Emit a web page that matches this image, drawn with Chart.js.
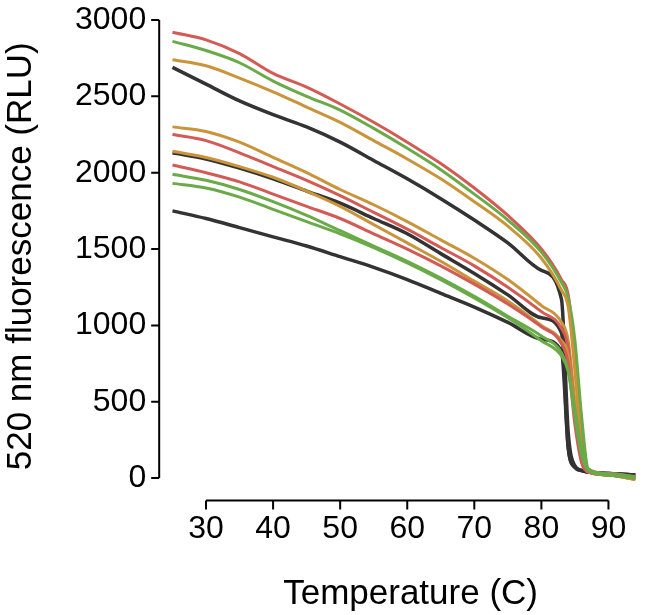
<!DOCTYPE html>
<html>
<head>
<script src="https://cdn.jsdelivr.net/npm/chart.js@4"></script>
<style>
  body { margin: 0; background: #fff; }
  #wrap { width: 668px; height: 615px; }
</style>
</head>
<body>
<div id="wrap"><canvas id="melt"></canvas></div>
<script>
// temperatures (C) where each curve was read
var temps = [25, 30, 35, 40, 45, 50, 55, 60, 65, 70, 75, 80, 83, 84, 85, 86, 87, 90, 94];

var red1   = [2920, 2870, 2780, 2650, 2560, 2450, 2330, 2200, 2060, 1900, 1720, 1500, 1300, 1200, 800, 250, 50, 30, 10];
var green1 = [2860, 2800, 2720, 2600, 2500, 2410, 2290, 2160, 2020, 1860, 1690, 1480, 1280, 1180, 900, 400, 60, 30, 10];
var gold1  = [2740, 2700, 2620, 2530, 2430, 2330, 2210, 2090, 1960, 1810, 1650, 1440, 1230, 1120, 700, 200, 40, 20, -10];
var black1 = [2690, 2580, 2470, 2380, 2300, 2200, 2080, 1960, 1830, 1690, 1540, 1360, 1170, 300, 80, 50, 40, 30, 20];
var gold2  = [2300, 2270, 2200, 2100, 2000, 1890, 1790, 1680, 1560, 1440, 1300, 1130, 1020, 900, 500, 150, 40, 20, -10];
var red2   = [2250, 2210, 2130, 2040, 1950, 1850, 1740, 1630, 1510, 1390, 1250, 1090, 980, 850, 400, 120, 40, 20, 0];
var gold3  = [2140, 2100, 2040, 1970, 1880, 1780, 1660, 1540, 1420, 1290, 1160, 1000, 900, 800, 400, 120, 40, 20, -10];
var black2 = [2130, 2090, 2030, 1960, 1880, 1800, 1700, 1600, 1470, 1340, 1200, 1050, 950, 200, 70, 50, 40, 30, 20];
var red3   = [2050, 2000, 1940, 1860, 1780, 1700, 1600, 1500, 1390, 1270, 1140, 990, 880, 750, 350, 100, 40, 20, 0];
var green2 = [1990, 1950, 1890, 1810, 1720, 1620, 1520, 1420, 1310, 1190, 1060, 930, 820, 700, 400, 150, 50, 20, 0];
var green3 = [1930, 1900, 1840, 1760, 1680, 1600, 1510, 1410, 1300, 1180, 1050, 900, 800, 700, 450, 200, 60, 20, 0];
var black3 = [1750, 1700, 1640, 1580, 1520, 1450, 1380, 1300, 1210, 1120, 1020, 910, 830, 200, 70, 50, 40, 30, 20];

var RED = "#d45a55", GREEN = "#6aaa48", GOLD = "#c9943a", BLACK = "#333333";
var curves = [
  [green3, GREEN], [green2, GREEN], [red3, RED], [gold3, GOLD], [red2, RED], [gold2, GOLD],
  [gold1, GOLD], [green1, GREEN], [red1, RED],
  [black3, BLACK], [black2, BLACK], [black1, BLACK]
];

var xTicks = [30, 40, 50, 60, 70, 80, 90];
var yTicks = [0, 500, 1000, 1500, 2000, 2500, 3000];

// detached R-style axis lines
var axisLines = {
  id: "axisLines",
  afterDraw: chart => {
    var c = chart.ctx, a = chart.chartArea;
    var xs = chart.scales.x, ys = chart.scales.y;
    c.save();
    c.strokeStyle = "#000";
    c.lineWidth = 2;
    var lx = a.left - 20, by = a.bottom + 8;
    c.beginPath();
    c.moveTo(lx, ys.getPixelForValue(3000));
    c.lineTo(lx, ys.getPixelForValue(0));
    yTicks.forEach(v => {
      c.moveTo(lx, ys.getPixelForValue(v));
      c.lineTo(lx - 8, ys.getPixelForValue(v));
    });
    c.moveTo(xs.getPixelForValue(30), by);
    c.lineTo(xs.getPixelForValue(90), by);
    xTicks.forEach(v => {
      c.moveTo(xs.getPixelForValue(v), by);
      c.lineTo(xs.getPixelForValue(v), by + 9);
    });
    c.stroke();
    c.restore();
  }
};

new Chart(document.getElementById("melt"), {
  type: "line",
  data: {
    datasets: curves.map(cv => ({
      data: temps.map((t, i) => ({ x: t, y: cv[0][i] })),
      borderColor: cv[1],
      borderWidth: cv[1] == BLACK ? 3.5 : 3,
      pointRadius: 0,
      clip: false,
      cubicInterpolationMode: "monotone"
    }))
  },
  options: {
    responsive: true,
    maintainAspectRatio: false,
    animation: false,
    layout: { padding: { top: 20, right: 26, bottom: 0, left: 0 } },
    plugins: { legend: { display: false }, tooltip: { enabled: false } },
    scales: {
      x: {
        type: "linear", min: 26, max: 95,
        afterBuildTicks: s => { s.ticks = xTicks.map(v => ({ value: v })); },
        grid: { display: false, drawTicks: false }, border: { display: false },
        ticks: { color: "#000", padding: 17, callback: v => String(v),
                 font: { family: "Liberation Sans", size: 32 } },
        title: { display: true, text: "Temperature (C)", color: "#000", padding: { top: 8, bottom: 0 },
                 font: { family: "Liberation Sans", size: 35 } }
      },
      y: {
        min: -95, max: 3000,
        afterBuildTicks: s => { s.ticks = yTicks.map(v => ({ value: v })); },
        afterFit: s => { s.paddingTop = 0; s.paddingBottom = 0; },
        grid: { display: false, drawTicks: false }, border: { display: false },
        ticks: { color: "#000", padding: 33, callback: v => String(v),
                 font: { family: "Liberation Sans", size: 32 } },
        title: { display: true, text: "520 nm fluorescence (RLU)", color: "#000", padding: { top: 0, bottom: 0 },
                 font: { family: "Liberation Sans", size: 35 } }
      }
    }
  },
  plugins: [axisLines]
});
</script>
</body>
</html>
